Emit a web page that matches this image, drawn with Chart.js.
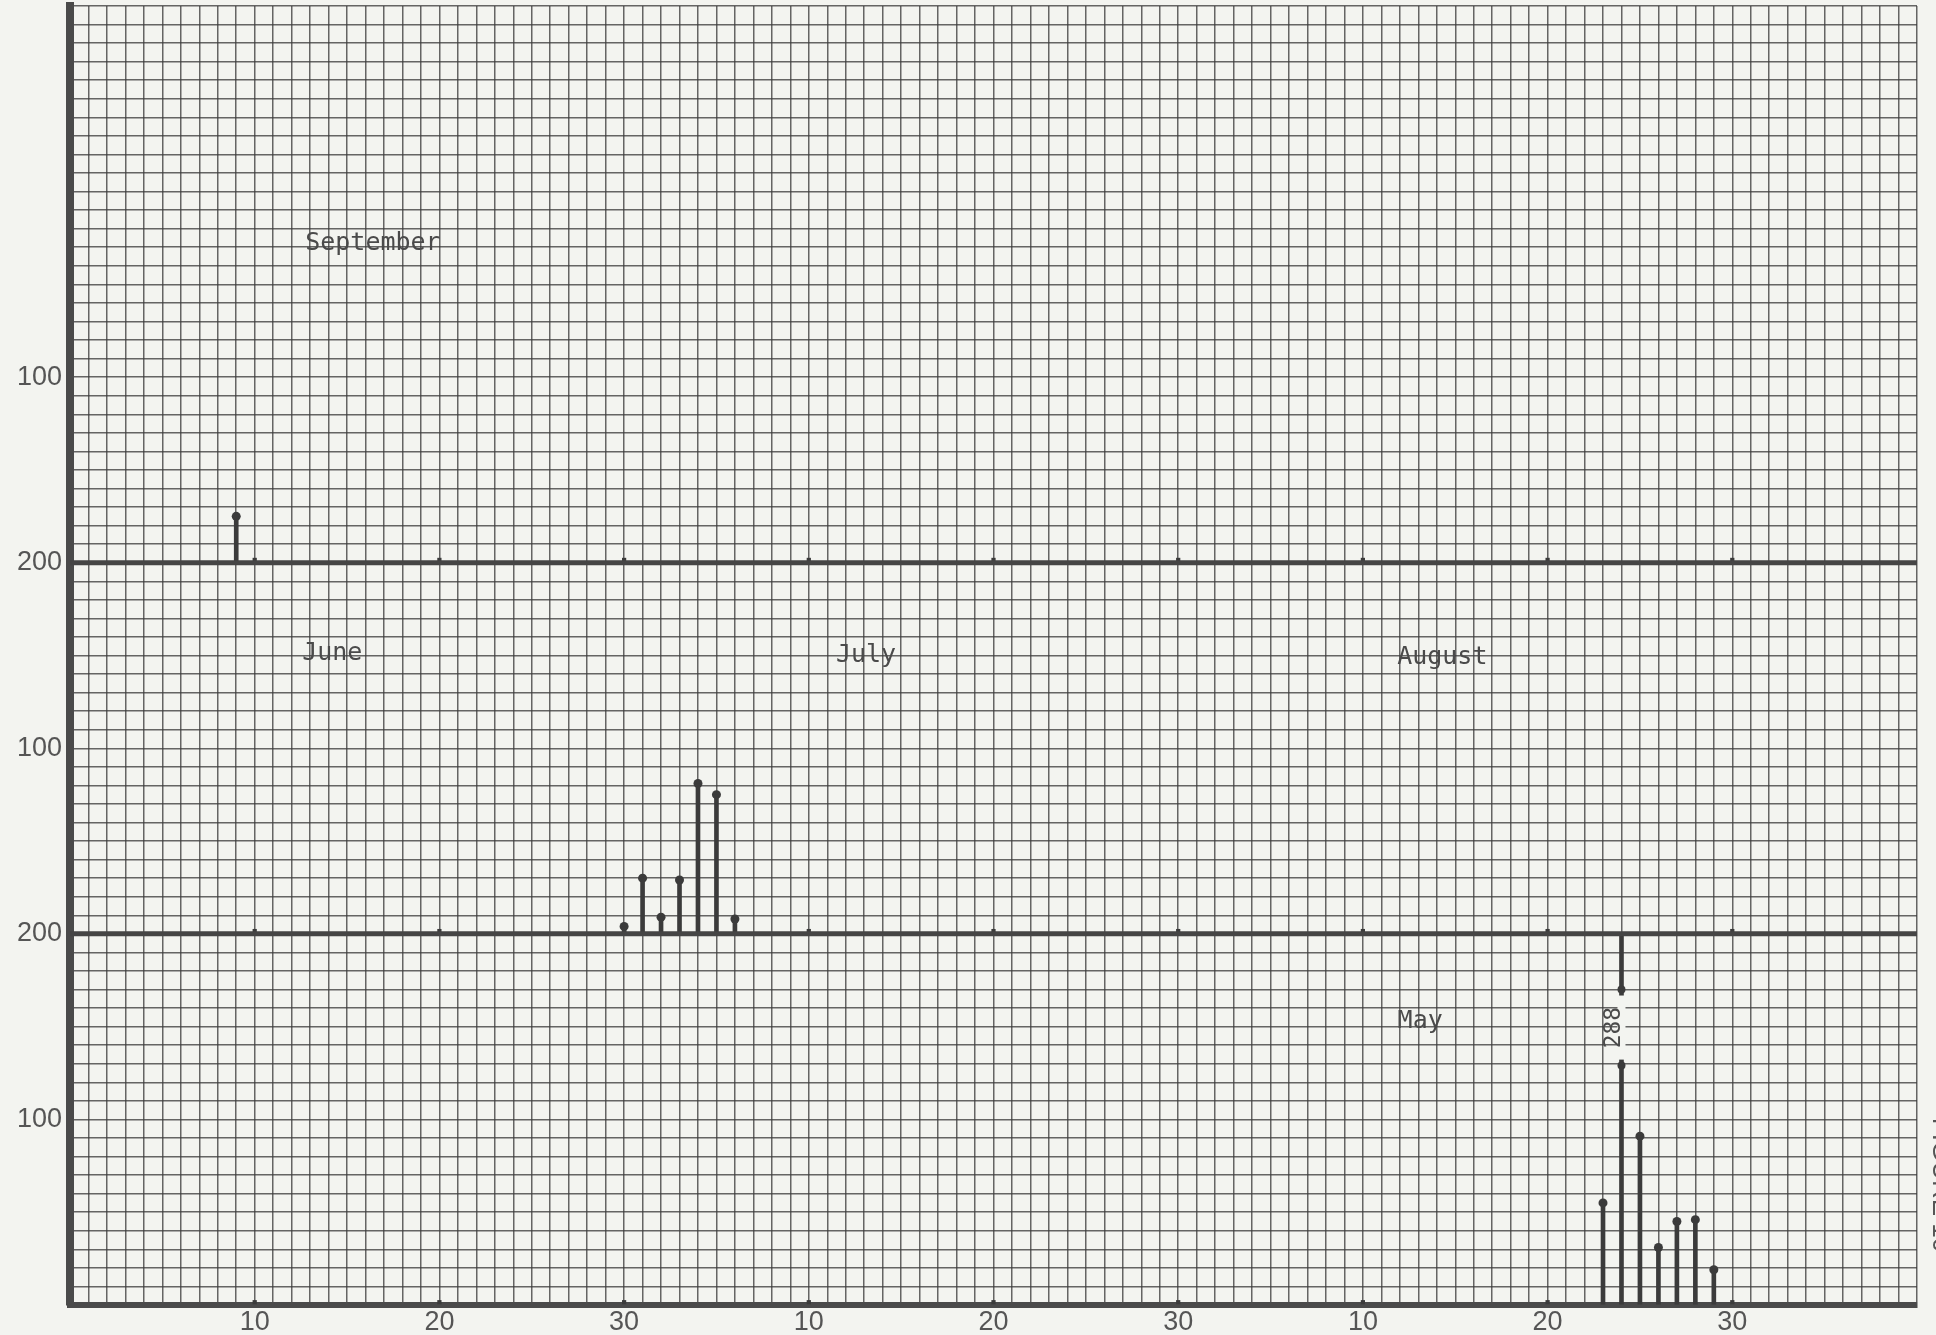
<!DOCTYPE html>
<html>
<head>
<meta charset="utf-8">
<script src="https://cdn.jsdelivr.net/npm/chart.js@4/dist/chart.umd.min.js"></script>
<style>
  html, body { margin: 0; padding: 0; background: #f3f4f0; overflow: hidden; }
  #wrap { width: 1936px; height: 1335px; position: relative; }
</style>
</head>
<body>
<div id="wrap"><canvas id="chart" width="1936" height="1335"></canvas></div>
<script>
// Day positions run continuously across three 30-day sections of the sheet
const xTickValues = [10, 20, 30, 40, 50, 60, 70, 80, 90];
const xTickLabels = ['10', '20', '30', '10', '20', '30', '10', '20', '30'];
const yTickValues = [100, 200, 300, 400, 500];
const yTickLabels = ['100', '200', '100', '200', '100'];

// Bottom panel (May)
const mayDays = [83, 84, 85, 86, 87, 88, 89];
const mayValues = [55, 288, 91, 31, 45, 46, 19];
// Middle panel (June / July / August)
const summerDays = [30, 31, 32, 33, 34, 35, 36];
const summerValues = [4, 30, 9, 29, 81, 75, 8];
// Top panel (September)
const septDays = [9];
const septValues = [25];

const monthNames = ['September', 'June', 'July', 'August', 'May'];

// layout: panel baselines on the shared y scale, label anchors in scale units
const panelBase = { may: 0, summer: 200, sept: 400 };
const panelCap = 200;
const monthAnchors = [[16.4, 572], [14.2, 351], [43.1, 350], [74.3, 349], [73.1, 153]];
const breakRange = [129, 170];
const gridStepX = 1, gridStepY = 10;

const ink = '#3b3b3b';
const paper = '#f3f4f0';

function barsFor(days, values, base) {
    return days.map((d, i) => ({ x: d, y: [base, base + Math.min(values[i], panelCap)] }));
}
function topsFor(days, values, base) {
    return days.map((d, i) => values[i] > panelCap ? null : { x: d, y: base + values[i] }).filter(p => p);
}
function baseline(base) {
    return [{ x: 0, y: base }, { x: 100, y: base }];
}
function tickMarks() {
    const pts = [];
    Object.values(panelBase).forEach(b => xTickValues.forEach(v => pts.push({ x: v, y: b + 1.5 })));
    return pts;
}
// graph-paper rulings
function rulings(min, max, step) {
    const out = [];
    for (let v = min; v <= max + 1e-9; v += step) out.push({ value: v });
    return out;
}

const allBars = []
    .concat(barsFor(mayDays, mayValues, panelBase.may))
    .concat(barsFor(summerDays, summerValues, panelBase.summer))
    .concat(barsFor(septDays, septValues, panelBase.sept));
const allTops = []
    .concat(topsFor(mayDays, mayValues, panelBase.may))
    .concat(topsFor(summerDays, summerValues, panelBase.summer))
    .concat(topsFor(septDays, septValues, panelBase.sept));

// Month names, the broken off-scale bar and the edge caption
const sheetText = {
    id: 'sheetText',
    afterDatasetsDraw(chart) {
        const ctx = chart.ctx;
        const xs = chart.scales.x, ys = chart.scales.y;
        ctx.save();
        ctx.fillStyle = '#4a4a4a';
        ctx.font = '25px "DejaVu Sans Mono"';
        ctx.textAlign = 'center';
        ctx.textBaseline = 'middle';
        monthNames.forEach((m, i) => {
            ctx.fillText(m, xs.getPixelForValue(monthAnchors[i][0]), ys.getPixelForValue(monthAnchors[i][1]));
        });

        mayDays.forEach((d, i) => {
            if (mayValues[i] <= panelCap) return;
            const px = xs.getPixelForValue(d);
            const yHi = ys.getPixelForValue(panelBase.may + breakRange[1]);
            const yLo = ys.getPixelForValue(panelBase.may + breakRange[0]);
            ctx.fillStyle = paper;
            ctx.fillRect(px - 4, yHi + 6, 8, yLo - yHi - 12);
            ctx.fillStyle = ink;
            [yHi, yLo].forEach(py => {
                ctx.beginPath();
                ctx.arc(px, py, 4, 0, Math.PI * 2);
                ctx.fill();
            });
            ctx.save();
            ctx.translate(px - 7, (yHi + yLo) / 2);
            ctx.rotate(-Math.PI / 2);
            ctx.font = '23px "DejaVu Sans Mono"';
            ctx.fillStyle = '#4a4a4a';
            ctx.fillText(String(mayValues[i]), 0, 0);
            ctx.restore();
        });

        ctx.save();
        ctx.translate(1940, 1185);
        ctx.rotate(Math.PI / 2);
        ctx.font = '26px "Liberation Sans"';
        ctx.fillStyle = '#555';
        ctx.fillText('FIGURE 10', 0, 0);
        ctx.restore();
        ctx.restore();
    }
};

const gridStyle = { color: 'rgba(60,60,60,0.78)', lineWidth: 1.5, drawTicks: false, offset: false };
const labelFont = { family: 'Liberation Sans', size: 27 };

// keep the plot area fixed: no extra room for labels at the ends
function fixSize(w, h) {
    return s => {
        if (w !== null) s.width = w;
        if (h !== null) s.height = h;
        s.paddingTop = 0; s.paddingBottom = 0; s.paddingLeft = 0; s.paddingRight = 0;
    };
}

new Chart(document.getElementById('chart'), {
    type: 'scatter',
    data: {
        datasets: [
            { type: 'line', data: baseline(panelBase.summer), borderColor: '#454545', borderWidth: 5, pointRadius: 0 },
            { type: 'line', data: baseline(panelBase.sept), borderColor: '#454545', borderWidth: 5, pointRadius: 0 },
            { type: 'bar', data: allBars, backgroundColor: ink, barThickness: 4, grouped: false },
            { data: allTops, backgroundColor: ink, borderWidth: 0, pointRadius: 4.5 },
            { data: tickMarks(), backgroundColor: ink, borderWidth: 0, pointStyle: 'rect', pointRadius: 3 }
        ]
    },
    options: {
        responsive: false,
        animation: false,
        devicePixelRatio: 1,
        layout: { padding: { top: 6, right: 19, left: 0, bottom: 0 } },
        plugins: { legend: { display: false }, tooltip: { enabled: false } },
        scales: {
            x: {
                type: 'linear', min: 0, max: 100, offset: false,
                afterBuildTicks: s => { s.ticks = rulings(0, 100, gridStepX); },
                ticks: { display: false, autoSkip: false },
                grid: gridStyle,
                border: { display: true, width: 6, color: '#4a4a4a' },
                afterFit: fixSize(null, 0)
            },
            xl: {
                type: 'linear', position: 'bottom', min: 0, max: 100, offset: false,
                grid: { display: false }, border: { display: false },
                afterBuildTicks: s => { s.ticks = xTickValues.map(v => ({ value: v })); },
                ticks: { font: labelFont, color: '#555', padding: -7, maxRotation: 0, callback: (v, i) => xTickLabels[i] },
                afterFit: fixSize(null, 30)
            },
            y: {
                type: 'linear', min: 0, max: 700, beginAtZero: false,
                afterBuildTicks: s => { s.ticks = rulings(0, 700, gridStepY); },
                ticks: { display: false, autoSkip: false },
                grid: gridStyle,
                border: { display: true, width: 8, color: '#4a4a4a' },
                afterFit: fixSize(0, null)
            },
            yl: {
                type: 'linear', position: 'left', min: 0, max: 700,
                grid: { display: false }, border: { display: false },
                afterBuildTicks: s => { s.ticks = yTickValues.map(v => ({ value: v })); },
                ticks: { font: labelFont, color: '#555', padding: 0, callback: (v, i) => yTickLabels[i] },
                afterFit: fixSize(70, null)
            }
        }
    },
    plugins: [sheetText]
});
</script>
</body>
</html>
